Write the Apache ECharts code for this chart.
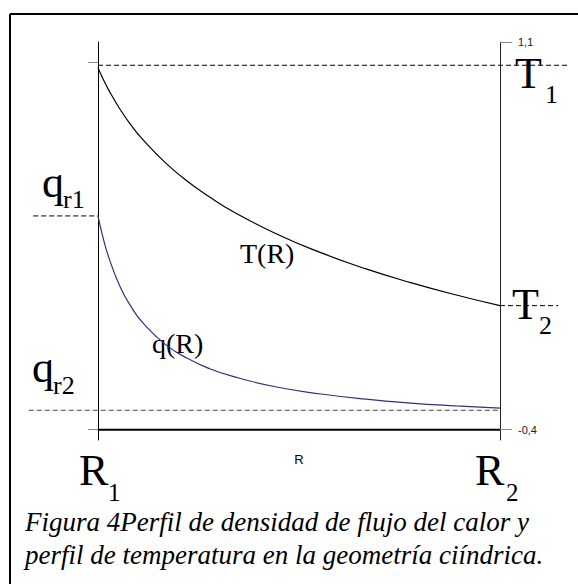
<!DOCTYPE html>
<html>
<head>
<meta charset="utf-8">
<script src="https://cdn.jsdelivr.net/npm/echarts@6/dist/echarts.min.js"></script>
<style>
  html, body { margin: 0; padding: 0; background: #fff; }
  #chart { width: 578px; height: 584px; }
</style>
</head>
<body>
<div id="chart"></div>
<script>
// Radius positions (R1 = 1, R2 = 10)
const radius = [1, 1.1, 1.25, 1.5, 1.75, 2, 2.5, 3, 3.5, 4, 5, 6, 7, 8, 9, 10];
// Temperature profile T(R)
const temperature = [1.0, 0.962, 0.911, 0.838, 0.776, 0.723, 0.634, 0.561, 0.500, 0.446, 0.357, 0.284, 0.222, 0.169, 0.122, 0.08];
// Heat flux density profile q(R)
const heatFlux = [0.427, 0.352, 0.262, 0.151, 0.073, 0.014, -0.069, -0.124, -0.164, -0.193, -0.235, -0.262, -0.282, -0.297, -0.308, -0.317];

// Reference levels and the extent of their dashed guide lines (in R units)
const levelT1 = 1.01, spanT1 = [1, 11.52];
const levelT2 = 0.08, spanT2 = [10, 11.3];
const levelQ1 = 0.427, spanQ1 = [-0.45, 1];
const levelQ2 = -0.325, spanQ2 = [-0.55, 10];

// Axis range and tick values
const rMin = 1, rMax = 10;
const yMin = -0.44, yMax = 1.1;
const rightTicks = [-0.4, 1.1];
const leftTicks = [-0.4, 1.02];
const baseLevel = -0.4;

const pairs = (xs, ys) => xs.map((x, i) => [x, ys[i]]);

const serif = '"Liberation Serif", "DejaVu Serif", serif';
const sans = '"Liberation Sans", Arial, sans-serif';

function txt(x, y, s, size, italic) {
  return {
    type: 'text', x: x, y: y, silent: true,
    style: { text: s, font: (italic ? 'italic ' : '') + size + 'px ' + serif, fill: '#000', verticalAlign: 'middle', align: 'left' }
  };
}

const chart = echarts.init(document.getElementById('chart'), null, { renderer: 'svg' });

const staticGraphics = [
  // frame around the figure
  { type: 'line', silent: true, shape: { x1: 10, y1: 14, x2: 578, y2: 14 }, style: { stroke: '#000', lineWidth: 2 } },
  { type: 'line', silent: true, shape: { x1: 10, y1: 14, x2: 10, y2: 584 }, style: { stroke: '#000', lineWidth: 2 } },
  // running text above the figure
  txt(80, -14, 'la siguiente figura.', 24, false),
  // level labels
  txt(515, 73, 'T', 44), txt(545, 94, '1', 26),
  txt(512, 304, 'T', 44), txt(539, 325, '2', 26),
  txt(42, 182, 'q', 44), txt(63, 199, 'r1', 26),
  txt(32, 367, 'q', 44), txt(53, 385, 'r2', 26),
  txt(79, 470, 'R', 44), txt(108, 492, '1', 25),
  txt(475, 470, 'R', 44), txt(506, 492, '2', 25),
  // curve labels
  txt(240, 253, 'T(R)', 28),
  txt(152, 343, 'q(R)', 28),
  // caption
  txt(25, 522, 'Figura 4Perfil de densidad de flujo del calor y', 27, true),
  txt(25, 555, 'perfil de temperatura en la geometría ciíndrica.', 27, true)
];

chart.setOption({
  animation: false,
  backgroundColor: '#fff',
  grid: { left: 98, right: 78, top: 42, bottom: 144 },
  xAxis: {
    type: 'value', min: rMin, max: rMax,
    name: 'R', nameLocation: 'middle', nameGap: 13,
    nameTextStyle: { fontFamily: sans, fontSize: 13, color: '#000' },
    axisLine: { show: false }, axisTick: { show: false },
    axisLabel: { show: false }, splitLine: { show: false }
  },
  yAxis: [
    {
      type: 'value', min: yMin, max: yMax, position: 'left',
      axisLine: { show: true, lineStyle: { color: '#000', width: 1 } },
      axisTick: { show: true, customValues: leftTicks, length: 10, lineStyle: { color: '#888' } },
      axisLabel: { show: false }, splitLine: { show: false }
    },
    {
      type: 'value', min: yMin, max: yMax, position: 'right',
      axisLine: { show: true, lineStyle: { color: '#222', width: 1 } },
      axisTick: { show: true, customValues: rightTicks, length: 12, lineStyle: { color: '#888' } },
      axisLabel: {
        show: true, customValues: rightTicks, margin: 18,
        fontFamily: sans, fontSize: 11, color: '#222',
        formatter: v => v.toFixed(1).replace('.', ',')
      },
      splitLine: { show: false }
    }
  ],
  series: [
    {
      name: 'T(R)', type: 'line', data: pairs(radius, temperature),
      smooth: true, symbol: 'none',
      lineStyle: { color: '#000', width: 1.2 }, z: 3
    },
    {
      name: 'q(R)', type: 'line', data: pairs(radius, heatFlux),
      smooth: true, symbol: 'none',
      lineStyle: { color: '#33337a', width: 1.2 }, z: 3
    },
    {
      name: 'base', type: 'line', data: [[rMin, baseLevel], [rMax, baseLevel]],
      symbol: 'none', silent: true,
      lineStyle: { color: '#000', width: 2 }, z: 2
    }
  ],
  graphic: staticGraphics
});

// Dashed guide lines at the boundary levels, placed through the grid's own scales
function guide(level, span, color) {
  const a = chart.convertToPixel({ gridIndex: 0 }, [span[0], level]);
  const b = chart.convertToPixel({ gridIndex: 0 }, [span[1], level]);
  return {
    type: 'line', silent: true, z: 1,
    shape: { x1: a[0], y1: a[1], x2: b[0], y2: b[1] },
    style: { stroke: color, lineWidth: 1, lineDash: [5, 3] }
  };
}

chart.setOption({
  graphic: staticGraphics.concat([
    guide(levelT1, spanT1, '#000'),
    guide(levelT2, spanT2, '#000'),
    guide(levelQ1, spanQ1, '#000'),
    guide(levelQ2, spanQ2, '#444')
  ])
});
</script>
</body>
</html>
